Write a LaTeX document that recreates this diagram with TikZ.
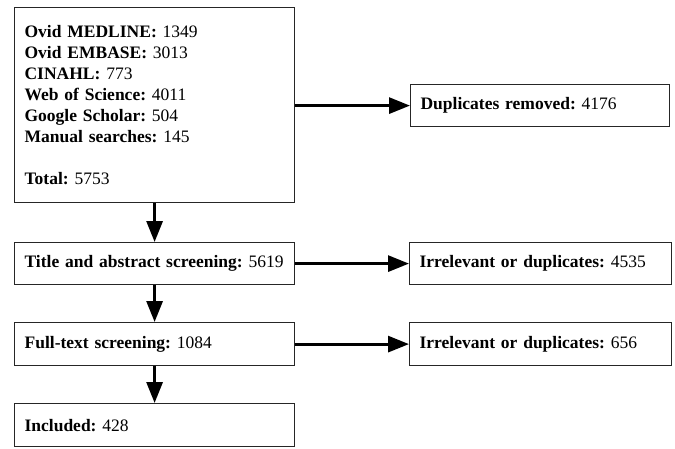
\documentclass[tikz,border=0pt]{standalone}
\usepackage{fontspec}
\setmainfont{Liberation Serif}
\usetikzlibrary{arrows.meta}
\begin{document}
\frenchspacing
\begin{tikzpicture}[x=1pt,y=-1pt,
    box/.style={draw=black!85,line width=1.2pt,anchor=north west,inner xsep=10pt,
      inner ysep=0pt,align=left,font=\fontsize{17.5}{21}\selectfont},
    flow/.style={line width=3pt,-{Triangle[length=21pt,width=16pt]}}]
  \useasboundingbox (0,0) rectangle (675,448);
  % left column
  \node[box,text width=260pt,minimum height=195pt] (src) at (14,7)
    {\textbf{Ovid MEDLINE:} 1349\\ \textbf{Ovid EMBASE:} 3013\\ \textbf{CINAHL:} 773\\
     \textbf{Web of Science:} 4011\\ \textbf{Google Scholar:} 504\\
     \textbf{Manual searches:} 145\\[21pt] \textbf{Total:} 5753};
  \node[box,text width=260pt,minimum height=42pt] (title) at (14,242)
    {\textbf{Title and abstract screening:} 5619};
  \node[box,text width=260pt,minimum height=43pt] (full) at (14,322)
    {\textbf{Full-text screening:} 1084};
  \node[box,text width=260pt,minimum height=43pt] (incl) at (14,403)
    {\textbf{Included:} 428};
  % right column
  \node[box,text width=239pt,minimum height=42pt] (dup) at (410,84)
    {\textbf{Duplicates removed:} 4176};
  \node[box,text width=242pt,minimum height=42pt] (irra) at (409,242)
    {\textbf{Irrelevant or duplicates:} 4535};
  \node[box,text width=242pt,minimum height=43pt] (irrb) at (409,322)
    {\textbf{Irrelevant or duplicates:} 656};
  % arrows
  \draw[flow] (src.south) -- (title.north);
  \draw[flow] (title.south) -- (full.north);
  \draw[flow] (full.south) -- (incl.north);
  \draw[flow] (src.east |- dup.west) -- (dup.west);
  \draw[flow] (title.east) -- (irra.west);
  \draw[flow] (full.east) -- (irrb.west);
\end{tikzpicture}
\end{document}
